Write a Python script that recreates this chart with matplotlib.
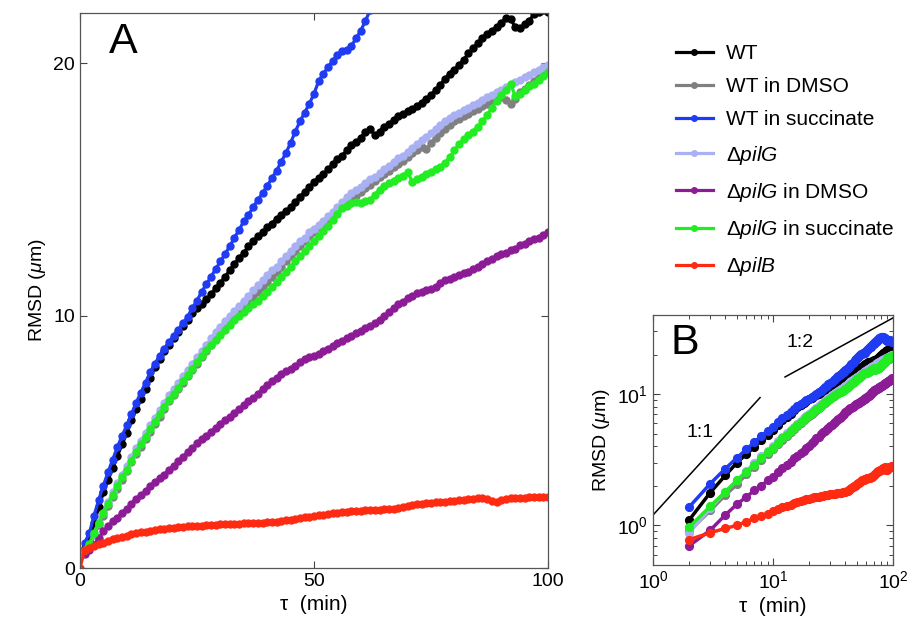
import matplotlib
matplotlib.use("Agg")
import matplotlib.pyplot as plt
import numpy as np

plt.rcParams['font.family'] = ['Liberation Sans', 'DejaVu Sans']
plt.rcParams['mathtext.fontset'] = 'custom'
plt.rcParams['mathtext.rm'] = 'Liberation Sans'
plt.rcParams['mathtext.it'] = 'Liberation Sans:italic'
plt.rcParams['mathtext.bf'] = 'Liberation Sans:bold'

# time lag (min), one point per minute
tau = np.arange(1, 101)
tau_red = np.arange(0, 101)

wt = [0.8, 1.1, 1.78, 2.4, 3.0, 3.5, 3.95, 4.45, 4.9, 5.35,
      5.85, 6.3, 6.7, 7.1, 7.55, 7.95, 8.3, 8.6, 8.85, 9.1,
      9.35, 9.6, 9.85, 10.1, 10.3, 10.45, 10.65, 10.85, 11.1, 11.3,
      11.55, 11.8, 12.05, 12.3, 12.5, 12.75, 12.95, 13.15, 13.3, 13.5,
      13.65, 13.85, 14.0, 14.15, 14.3, 14.5, 14.7, 14.9, 15.1, 15.3,
      15.45, 15.6, 15.8, 16.0, 16.2, 16.35, 16.55, 16.75, 16.9, 17.05,
      17.3, 17.4, 17.15, 17.3, 17.5, 17.6, 17.75, 17.9, 18.0, 18.1,
      18.2, 18.3, 18.45, 18.6, 18.75, 18.95, 19.15, 19.4, 19.6, 19.75,
      19.95, 20.15, 20.4, 20.6, 20.8, 21.0, 21.15, 21.3, 21.45, 21.6,
      21.8, 21.75, 21.45, 21.4, 21.55, 21.7, 21.95, 22.05, 22.1, 22.05]

wt_dmso = [0.65, 0.9, 1.3, 1.7, 2.05, 2.45, 2.8, 3.15, 3.5, 3.85,
           4.2, 4.5, 4.8, 5.1, 5.4, 5.7, 6.0, 6.3, 6.6, 6.85,
           7.1, 7.35, 7.6, 7.85, 8.1, 8.35, 8.6, 8.85, 9.1, 9.3,
           9.55, 9.75, 9.95, 10.15, 10.35, 10.55, 10.75, 10.95, 11.15, 11.35,
           11.55, 11.75, 11.95, 12.15, 12.35, 12.55, 12.75, 12.95, 13.15, 13.3,
           13.5, 13.65, 13.85, 14.0, 14.15, 14.3, 14.45, 14.6, 14.75, 14.9,
           15.05, 15.2, 15.35, 15.5, 15.6, 15.75, 15.9, 16.0, 16.15, 16.3,
           16.45, 16.55, 16.7, 16.6, 16.85, 17.05, 17.25, 17.4, 17.55, 17.7,
           17.8, 17.9, 18.0, 18.1, 18.2, 18.3, 18.4, 18.5, 18.6, 18.65,
           18.55, 18.4, 18.6, 18.85, 19.0, 19.15, 19.3, 19.45, 19.55, 19.65]

wt_succ = [1.0, 1.38, 2.08, 2.7, 3.27, 3.8, 4.3, 4.8, 5.25, 5.65,
           6.1, 6.55, 6.95, 7.35, 7.75, 8.1, 8.4, 8.7, 8.95, 9.2,
           9.45, 9.7, 9.95, 10.3, 10.6, 10.95, 11.25, 11.55, 11.85, 12.15,
           12.45, 12.75, 13.1, 13.4, 13.75, 14.0, 14.3, 14.6, 14.85, 15.15,
           15.45, 15.75, 16.1, 16.45, 16.85, 17.3, 17.7, 18.05, 18.4, 18.8,
           19.3, 19.6, 19.85, 20.1, 20.35, 20.5, 20.55, 20.7, 21.0, 21.3,
           21.7, 22.1, 22.4, 22.7, 23.0, 23.3, 23.6, 23.9, 24.2, 24.5,
           24.8, 25.1, 25.4, 25.7, 26.0, 26.3, 26.5, 26.7, 26.9, 27.0,
           27.1, 27.1, 27.0, 26.8, 26.6, 26.3, 26.0, 25.8, 25.6, 25.4,
           25.3, 25.3, 25.4, 25.5, 25.6, 25.5, 25.4, 25.2, 25.0, 24.9]

pilg = [0.7, 0.88, 1.35, 1.8, 2.2, 2.6, 3.0, 3.35, 3.7, 4.05,
        4.4, 4.75, 5.05, 5.35, 5.65, 5.95, 6.25, 6.55, 6.85, 7.1,
        7.35, 7.6, 7.85, 8.1, 8.35, 8.6, 8.85, 9.1, 9.35, 9.55,
        9.8, 10.0, 10.2, 10.4, 10.6, 10.8, 11.0, 11.2, 11.4, 11.6,
        11.8, 11.95, 12.15, 12.35, 12.55, 12.75, 12.95, 13.1, 13.3, 13.45,
        13.6, 13.75, 13.95, 14.1, 14.3, 14.5, 14.7, 14.85, 15.0, 15.1,
        15.25, 15.4, 15.5, 15.65, 15.8, 15.95, 16.1, 16.25, 16.35, 16.5,
        16.65, 16.8, 16.95, 17.1, 17.25, 17.4, 17.55, 17.7, 17.85, 17.95,
        18.05, 18.15, 18.25, 18.35, 18.45, 18.55, 18.65, 18.75, 18.85, 18.95,
        19.05, 19.15, 19.25, 19.35, 19.45, 19.55, 19.65, 19.75, 19.85, 19.95]

pilg_dmso = [0.55, 0.7, 0.92, 1.2, 1.45, 1.65, 1.85, 2.0, 2.2, 2.35,
             2.55, 2.75, 2.9, 3.05, 3.25, 3.4, 3.55, 3.7, 3.9, 4.05,
             4.25, 4.4, 4.6, 4.75, 4.95, 5.1, 5.25, 5.4, 5.55, 5.7,
             5.85, 6.0, 6.15, 6.3, 6.45, 6.6, 6.75, 6.9, 7.1, 7.25,
             7.4, 7.55, 7.7, 7.8, 7.9, 8.0, 8.15, 8.3, 8.35, 8.4,
             8.5, 8.6, 8.7, 8.8, 8.9, 9.0, 9.1, 9.2, 9.3, 9.4,
             9.5, 9.6, 9.7, 9.85, 10.0, 10.15, 10.3, 10.45, 10.55, 10.7,
             10.8, 10.9, 10.95, 11.0, 11.05, 11.15, 11.3, 11.4, 11.45, 11.55,
             11.6, 11.7, 11.75, 11.85, 11.95, 12.05, 12.15, 12.25, 12.35, 12.45,
             12.5, 12.6, 12.65, 12.8, 12.85, 12.95, 13.05, 13.1, 13.2, 13.3]

pilg_succ = [0.7, 0.97, 1.4, 1.8, 2.2, 2.55, 2.9, 3.25, 3.6, 3.9,
             4.25, 4.6, 4.9, 5.2, 5.5, 5.8, 6.1, 6.4, 6.65, 6.9,
             7.15, 7.4, 7.65, 7.9, 8.15, 8.4, 8.65, 8.85, 9.05, 9.25,
             9.45, 9.65, 9.85, 10.0, 10.15, 10.3, 10.45, 10.6, 10.8, 10.95,
             11.15, 11.35, 11.55, 11.75, 11.95, 12.15, 12.35, 12.55, 12.75, 12.95,
             13.15, 13.35, 13.55, 13.8, 14.05, 14.25, 14.35, 14.45, 14.5, 14.45,
             14.55, 14.6, 14.8, 15.0, 15.15, 15.25, 15.35, 15.45, 15.55, 15.7,
             15.3, 15.4, 15.5, 15.6, 15.7, 15.8, 15.9, 16.05, 16.3, 16.55,
             16.8, 17.0, 17.15, 17.3, 17.5, 17.7, 17.95, 18.25, 18.5, 18.75,
             18.95, 19.2, 18.7, 18.8, 18.95, 19.1, 19.2, 19.35, 19.5, 19.65]

pilb = [0.0, 0.72, 0.78, 0.88, 0.95, 1.0, 1.07, 1.13, 1.18, 1.23, 1.28,
        1.33, 1.37, 1.41, 1.44, 1.47, 1.5, 1.53, 1.56, 1.58, 1.6,
        1.62, 1.64, 1.65, 1.66, 1.67, 1.68, 1.7, 1.71, 1.72, 1.73,
        1.74, 1.75, 1.75, 1.76, 1.77, 1.78, 1.78, 1.79, 1.8, 1.81,
        1.82, 1.84, 1.86, 1.89, 1.92, 1.95, 1.98, 2.01, 2.04, 2.07,
        2.1, 2.12, 2.15, 2.17, 2.2, 2.22, 2.23, 2.24, 2.26, 2.27,
        2.28, 2.29, 2.3, 2.31, 2.32, 2.33, 2.35, 2.37, 2.4, 2.44,
        2.48, 2.52, 2.55, 2.57, 2.58, 2.6, 2.61, 2.62, 2.64, 2.66,
        2.69, 2.71, 2.73, 2.74, 2.76, 2.77, 2.72, 2.64, 2.63, 2.68,
        2.73, 2.76, 2.77, 2.78, 2.79, 2.8, 2.81, 2.82, 2.83, 2.82]

labels = ['WT', 'WT in DMSO', 'WT in succinate', r'$\Delta\it{pilG}$',
          r'$\Delta\it{pilG}$ in DMSO', r'$\Delta\it{pilG}$ in succinate',
          r'$\Delta\it{pilB}$']
colors = ['#000000', '#808080', '#1f3cf2', '#aab1f2', '#8c1c96', '#22ec22', '#ff2a12']
series = [wt, wt_dmso, wt_succ, pilg, pilg_dmso, pilg_succ, pilb]
xs = [tau, tau, tau, tau, tau, tau, tau_red]

# guide slopes in panel B
g11_tau = [1, 7.8]
g11_val = [1.2, 9.4]
g12_tau = [12.6, 100]
g12_val = [13.5, 38]

fig = plt.figure(figsize=(9.1, 6.3), dpi=100)
axA = fig.add_axes([0.0879, 0.0984, 0.5143, 0.881])
axB = fig.add_axes([0.7176, 0.1032, 0.2637, 0.3968])

handles = []
for x, y, c, lab in zip(xs, series, colors, labels):
    h, = axA.plot(x, y, '-o', color=c, lw=2.3, ms=5.0, mec=c, label=lab)
    handles.append(h)
    x = np.asarray(x)
    y = np.asarray(y)
    m = x >= 2
    axB.plot(x[m], y[m], '-o', color=c, lw=2.5, ms=5.6, mec=c)

axA.set_xlim(0, 100)
axA.set_ylim(0, 22)
axA.set_xticks([0, 50, 100])
axA.set_yticks([0, 10, 20])
axA.set_xlabel('τ  (min)', fontsize=15)
axA.set_ylabel(r'RMSD ($\mu$m)', fontsize=14)
axA.text(0.092, 0.948, 'A', transform=axA.transAxes, fontsize=31,
         ha='center', va='center')

axB.plot(g11_tau, g11_val, color='black', lw=1.1)
axB.plot(g12_tau, g12_val, color='black', lw=1.1)
axB.text(2.46, 5.1, '1:1', fontsize=14, ha='center', va='center')
axB.text(16.8, 24.6, '1:2', fontsize=14, ha='center', va='center')
axB.set_xscale('log')
axB.set_yscale('log')
axB.set_xlim(1, 100)
axB.set_ylim(0.5, 40)
axB.set_xlabel('τ  (min)', fontsize=15)
axB.set_ylabel(r'RMSD ($\mu$m)', fontsize=14)
axB.text(0.133, 0.888, 'B', transform=axB.transAxes, fontsize=31,
         ha='center', va='center')

for ax in (axA, axB):
    ax.tick_params(direction='in', top=True, right=True, labelsize=14,
                   length=5, width=0.8, colors='#444444', labelcolor='black')
    ax.tick_params(which='minor', direction='in', top=True, right=True,
                   length=3, width=0.7, colors='#444444')
    for s in ax.spines.values():
        s.set_color('#555555')
        s.set_linewidth(0.9)

fig.legend(handles=handles, loc='upper left', bbox_to_anchor=(0.743, 0.93),
           frameon=False, fontsize=15, handlelength=1.75, handletextpad=0.65,
           labelspacing=0.68, borderpad=0, borderaxespad=0, markerscale=0.8)

fig.savefig('out.png', dpi=100)
